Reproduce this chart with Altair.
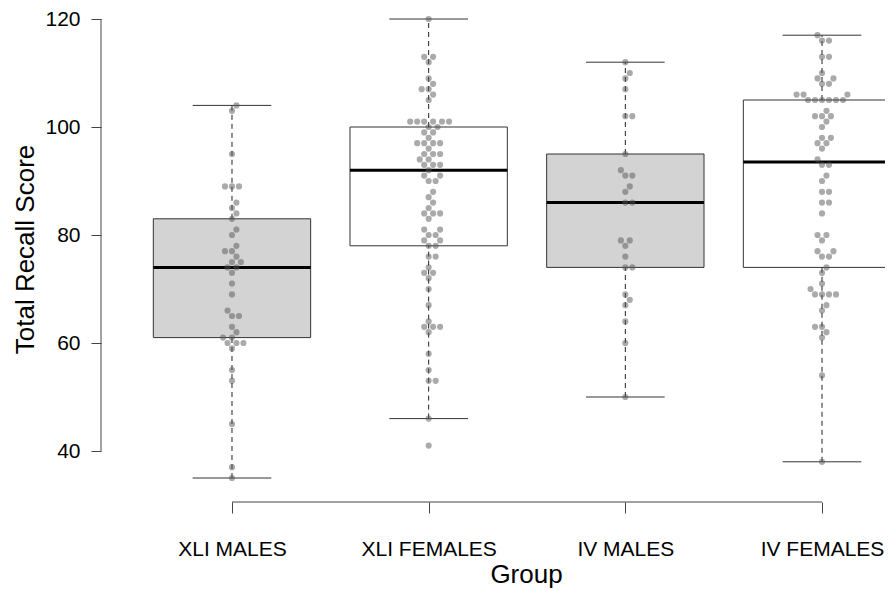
import json
import numpy as np
import pandas as pd
import altair as alt

# ---------------- data ----------------
groups = ["XLI MALES", "XLI FEMALES", "IV MALES", "IV FEMALES"]
box_fill = ["#d3d3d3", "#ffffff", "#d3d3d3", "#ffffff"]
whisker_lo = [35, 46, 50, 38]
q1 = [61, 78, 74, 74]
median = [74, 92, 86, 93.5]
q3 = [83, 100, 95, 105]
whisker_hi = [104, 120, 112, 117]

xli_males = [104, 103, 95, 89, 89, 89, 86, 85, 84, 83, 81, 80, 78, 77, 77, 76,
             75, 75, 74, 74, 73, 71, 69, 66, 65, 65, 63, 62, 61, 61, 60, 60, 60,
             59, 55, 53, 45, 37, 35]
xli_females = [120, 113, 113, 112, 109, 108, 107, 107, 106, 105, 101, 101, 101,
               101, 101, 101, 100, 100, 99, 99, 98, 97, 97, 97, 97, 96, 95, 95,
               95, 94, 94, 93, 93, 93, 92, 91, 91, 90, 90, 88, 87, 86, 85, 84,
               84, 84, 83, 81, 81, 80, 80, 79, 79, 78, 78, 76, 76, 74, 73, 73,
               72, 70, 67, 64, 63, 63, 63, 62, 58, 55, 53, 53, 46, 41]
iv_males = [112, 110, 109, 107, 102, 102, 95, 92, 91, 91, 89, 88, 86, 86, 79, 79,
            78, 76, 74, 74, 69, 68, 67, 64, 60, 50]
iv_females = [117, 116, 116, 113, 113, 110, 109, 109, 108, 108, 106, 106, 106,
              105, 105, 105, 105, 105, 105, 103, 102, 102, 102, 101, 100, 98, 98,
              97, 97, 96, 94, 93, 93, 91, 90, 88, 88, 86, 86, 84, 80, 80, 79, 77,
              77, 76, 76, 74, 73, 71, 70, 69, 69, 69, 69, 67, 66, 63, 63, 62, 61,
              54, 38]
series = [xli_males, xli_females, iv_males, iv_females]

y_ticks = [40, 60, 80, 100, 120]

# ---------------- layout ----------------
TOP = 6
W, H = 784, 482
X_DOMAIN = [0.334, 4.3203]
Y_DOMAIN = [31.667, 120.926]
XPX = W / (X_DOMAIN[1] - X_DOMAIN[0])
YPX = H / (Y_DOMAIN[1] - Y_DOMAIN[0])
DOT = 7.0
FONT = "Liberation Sans"


def swarm(values, d=DOT):
    """Beeswarm offsets (pixels) for one group, computed from the data."""
    vals = np.asarray(values, float)
    order = np.argsort(vals, kind="stable")
    px_, py_ = [], []
    xs = np.zeros(len(vals))
    for i in order:
        y = vals[i] * YPX
        cands = [0.0]
        for a, b in zip(px_, py_):
            dy = abs(y - b)
            if dy < d:
                dx = np.sqrt(d * d - dy * dy)
                cands += [a + dx, a - dx]
        cands.sort(key=lambda c: (abs(c), -c))
        chosen = 0.0
        for c in cands:
            if all((c - a) ** 2 + (y - b) ** 2 >= d * d - 1e-6 for a, b in zip(px_, py_)):
                chosen = c
                break
        xs[i] = chosen
        px_.append(chosen)
        py_.append(y)
    return xs


rows = []
for gi, vals in enumerate(series):
    offs = swarm(vals)
    for v, o in zip(vals, offs):
        rows.append({"group": groups[gi], "x": gi + 1 + o / XPX, "value": v})
pts = pd.DataFrame(rows)

pos = list(range(1, len(groups) + 1))
box = pd.DataFrame({
    "group": groups, "pos": pos, "fill": box_fill,
    "lo": whisker_lo, "q1": q1, "med": median, "q3": q3, "hi": whisker_hi,
})
box["xl"] = box["pos"] - 0.4
box["xr"] = box["pos"] + 0.4
box["cl"] = box["pos"] - 0.2
box["cr"] = box["pos"] + 0.2

axis_df = pd.DataFrame({"x1": [pos[0]], "x2": [pos[-1]], "y1": [y_ticks[0]], "y2": [y_ticks[-1]]})

xs = alt.Scale(domain=X_DOMAIN, nice=False, zero=False)
ys = alt.Scale(domain=Y_DOMAIN, nice=False, zero=False)

label_expr = json.dumps([""] + groups) + "[datum.value]"

x_axis = alt.Axis(
    values=pos, labelExpr=label_expr, domain=False, grid=False,
    tickSize=11, tickColor="#444", offset=6, labelPadding=25,
    labelFont=FONT, labelFontSize=21, labelColor="#000",
    labelFlush=False, labelOverlap=False,
    title="Group", titleFont=FONT, titleFontSize=26, titleFontWeight="normal",
    titleColor="#000", titleX=425, titleY=80, titleBaseline="alphabetic",
    titleAlign="center",
)
y_axis = alt.Axis(
    values=y_ticks, domain=False, grid=False, tickSize=10, tickColor="#444",
    labelPadding=11, labelFont=FONT, labelFontSize=21, labelColor="#000",
    labelFlush=False, labelOverlap=False,
    title="Total Recall Score", titleFont=FONT, titleFontSize=26,
    titleFontWeight="normal", titleColor="#000", titleX=-76, titleY=249 - 8 - TOP,
    titleAngle=270, titleBaseline="middle", titleAlign="center",
)


def X(field):
    return alt.X(field, scale=xs, axis=x_axis)


def Y(field):
    return alt.Y(field, scale=ys, axis=y_axis)


rects = alt.Chart(box).mark_rect(stroke="#333", strokeWidth=1, clip=True).encode(
    x=X("xl:Q"), x2="xr:Q", y=Y("q1:Q"), y2="q3:Q",
    fill=alt.Fill("fill:N", scale=None),
)

wh_up = alt.Chart(box).mark_rule(strokeDash=[5, 4], color="#222", strokeWidth=1).encode(
    x=X("pos:Q"), y=Y("q3:Q"), y2="hi:Q")
wh_dn = alt.Chart(box).mark_rule(strokeDash=[5, 4], color="#222", strokeWidth=1).encode(
    x=X("pos:Q"), y=Y("lo:Q"), y2="q1:Q")
cap_up = alt.Chart(box).mark_rule(color="#333", strokeWidth=1, clip=True).encode(
    x=X("cl:Q"), x2="cr:Q", y=Y("hi:Q"))
cap_dn = alt.Chart(box).mark_rule(color="#333", strokeWidth=1, clip=True).encode(
    x=X("cl:Q"), x2="cr:Q", y=Y("lo:Q"))
med = alt.Chart(box).mark_rule(color="#000", strokeWidth=3, clip=True).encode(
    x=X("xl:Q"), x2="xr:Q", y=Y("med:Q"))

points = alt.Chart(pts).mark_circle(size=38, color="#555", opacity=0.5).encode(
    x=X("x:Q"), y=Y("value:Q"))

x_line = alt.Chart(axis_df).mark_rule(color="#444", strokeWidth=1).encode(
    x=X("x1:Q"), x2="x2:Q", y=alt.value(H + 6))
y_line = alt.Chart(axis_df).mark_rule(color="#444", strokeWidth=1).encode(
    x=alt.value(0), y=Y("y1:Q"), y2="y2:Q")

chart = alt.layer(
    rects, wh_up, wh_dn, cap_up, cap_dn, med, points, x_line, y_line
).properties(
    width=W, height=H,
    autosize=alt.AutoSizeParams(type="none"),
    padding={"left": 93, "top": TOP, "right": 0, "bottom": 92},
    background="white",
).configure_view(stroke=None)

chart.save("out.html", embed_options={"renderer": "svg", "actions": False})
